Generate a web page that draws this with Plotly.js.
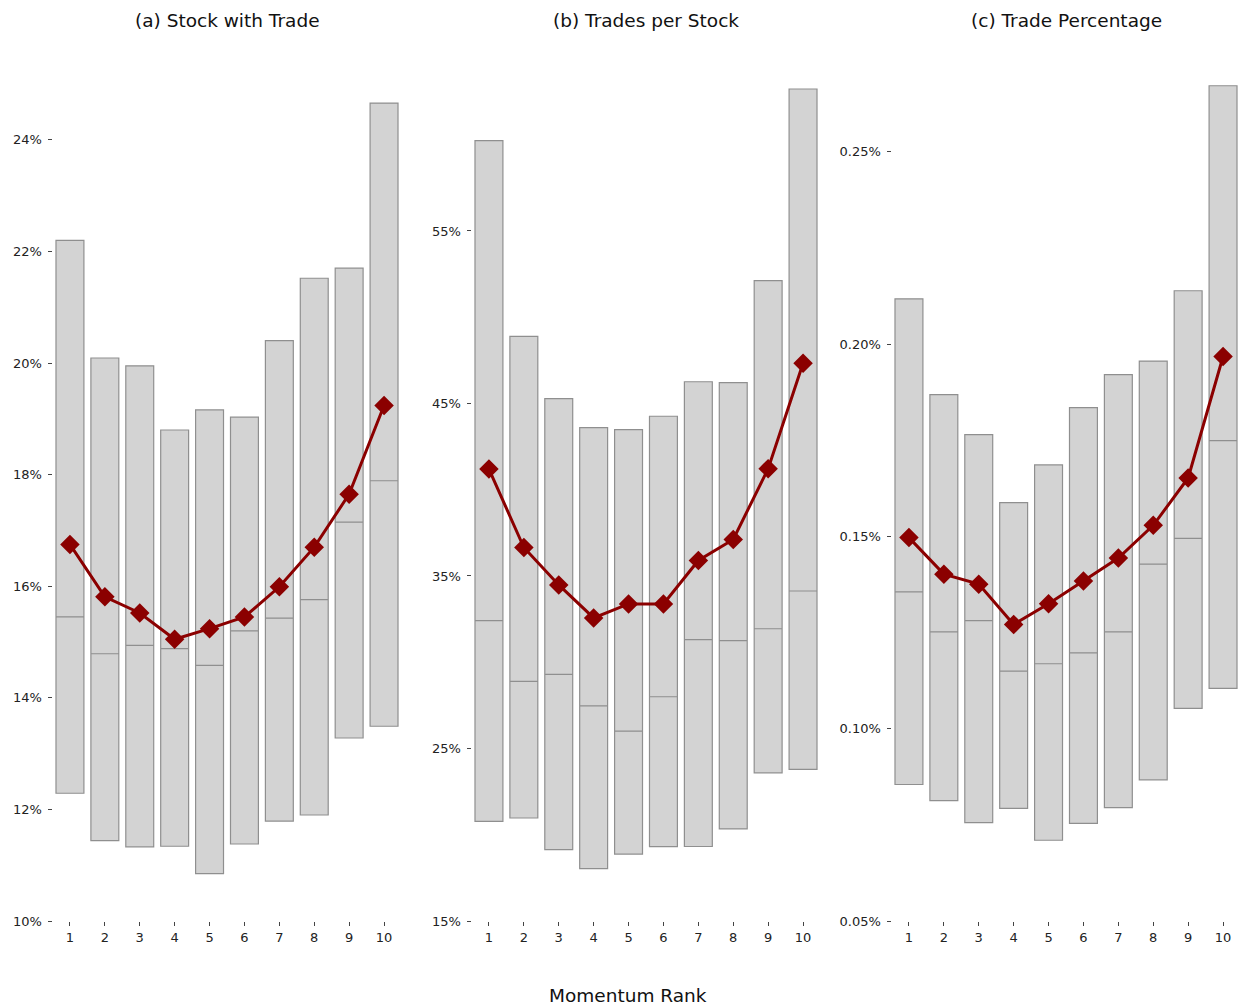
<!DOCTYPE html>
<html>
<head>
<meta charset="utf-8">
<script src="https://cdn.plot.ly/plotly-3.0.1.min.js"></script>
<style>html,body{margin:0;padding:0;background:#fff;}#chart{width:1241px;height:1006px;}</style>
</head>
<body>
<div id="chart"></div>
<script>
const ranks = [1, 2, 3, 4, 5, 6, 7, 8, 9, 10];
const rankLabels = ['1','2','3','4','5','6','7','8','9','10'];

// (a) Stock with Trade (%)
const aHigh   = [22.20, 20.09, 19.95, 18.80, 19.16, 19.03, 20.40, 21.52, 21.70, 24.66];
const aLow    = [12.29, 11.44, 11.33, 11.34, 10.85, 11.38, 11.79, 11.90, 13.28, 13.49];
const aMedian = [15.45, 14.79, 14.94, 14.88, 14.58, 15.20, 15.43, 15.76, 17.15, 17.89];
const aMean   = [16.75, 15.81, 15.52, 15.05, 15.24, 15.45, 15.99, 16.70, 17.65, 19.24];
const aTicks  = [10, 12, 14, 16, 18, 20, 22, 24];
const aTickLabels = ['10%', '12%', '14%', '16%', '18%', '20%', '22%', '24%'];

// (b) Trades per Stock (%)
const bHigh   = [60.24, 48.89, 45.28, 43.60, 43.48, 44.26, 46.26, 46.21, 52.12, 63.23];
const bLow    = [20.77, 20.97, 19.14, 18.04, 18.88, 19.31, 19.32, 20.34, 23.59, 23.79];
const bMedian = [32.41, 28.89, 29.30, 27.47, 26.01, 28.00, 31.31, 31.25, 31.94, 34.13];
const bMean   = [41.20, 36.65, 34.48, 32.57, 33.38, 33.38, 35.90, 37.12, 41.22, 47.33];
const bTicks  = [15, 25, 35, 45, 55];
const bTickLabels = ['15%', '25%', '35%', '45%', '55%'];

// (c) Trade Percentage (%)
const cHigh   = [0.2118, 0.1869, 0.1765, 0.1588, 0.1686, 0.1835, 0.1921, 0.1956, 0.2139, 0.2672];
const cLow    = [0.0855, 0.0813, 0.0756, 0.0793, 0.0710, 0.0754, 0.0795, 0.0867, 0.1053, 0.1105];
const cMedian = [0.1356, 0.1252, 0.1281, 0.1150, 0.1169, 0.1197, 0.1252, 0.1428, 0.1495, 0.1749];
const cMean   = [0.1497, 0.1402, 0.1376, 0.1271, 0.1325, 0.1384, 0.1444, 0.1529, 0.1652, 0.1968];
const cTicks  = [0.05, 0.10, 0.15, 0.20, 0.25];
const cTickLabels = ['0.05%', '0.10%', '0.15%', '0.20%', '0.25%'];

const panelTitles = ['(a) Stock with Trade', '(b) Trades per Stock', '(c) Trade Percentage'];
const xTitle = 'Momentum Rank';

const W = 1241, H = 1006;
const FONT = 'DejaVu Sans, sans-serif';
const panels = [
  {high: aHigh, low: aLow, med: aMedian, mean: aMean, ticks: aTicks, labels: aTickLabels, left: 52.5, range: [10, 25.70]},
  {high: bHigh, low: bLow, med: bMedian, mean: bMean, ticks: bTicks, labels: bTickLabels, left: 471.5, range: [15, 65.78]},
  {high: cHigh, low: cLow, med: cMedian, mean: cMean, ticks: cTicks, labels: cTickLabels, left: 891.5, range: [0.05, 0.2778]}
];
const axW = 349;
const yDom = [(H - 921) / H, (H - 45) / H];

const traces = [];
const layout = {
  width: W, height: H,
  margin: {l: 0, r: 0, t: 0, b: 0},
  paper_bgcolor: '#ffffff', plot_bgcolor: '#ffffff',
  showlegend: false,
  font: {family: FONT, size: 13, color: '#222'},
  annotations: []
};

panels.forEach((p, i) => {
  const n = i === 0 ? '' : String(i + 1);
  const xa = 'x' + n, ya = 'y' + n;
  traces.push({
    type: 'box', x: ranks, xaxis: xa, yaxis: ya,
    q1: p.low, median: p.med, q3: p.high,
    lowerfence: p.low, upperfence: p.high,
    boxpoints: false, width: 0.8, whiskerwidth: 0,
    fillcolor: '#d3d3d3',
    line: {color: '#8f8f8f', width: 1.2},
    hoverinfo: 'skip'
  });
  traces.push({
    type: 'scatter', mode: 'lines+markers', x: ranks, y: p.mean,
    xaxis: xa, yaxis: ya,
    line: {color: '#8b0000', width: 3},
    marker: {symbol: 'diamond', size: 15, color: '#8b0000'},
    hoverinfo: 'skip'
  });
  layout['xaxis' + n] = {
    domain: [p.left / W, (p.left + axW) / W],
    anchor: ya, range: [0.5, 10.5],
    tickmode: 'array', tickvals: ranks, ticktext: rankLabels,
    ticks: 'outside', ticklen: 4, tickwidth: 1, tickcolor: '#444',
    showgrid: false, zeroline: false, showline: false,
    tickfont: {family: FONT, size: 13, color: '#222'}
  };
  layout['yaxis' + n] = {
    domain: yDom, anchor: xa, range: p.range,
    tickmode: 'array', tickvals: p.ticks, ticktext: p.labels,
    ticks: 'outside', ticklen: 4, tickwidth: 1, tickcolor: '#444',
    ticklabelstandoff: 3,
    showgrid: false, zeroline: false, showline: false,
    tickfont: {family: FONT, size: 13, color: '#222'}
  };
  layout.annotations.push({
    text: panelTitles[i], xref: 'paper', yref: 'paper',
    x: (p.left + axW / 2) / W, y: (H - 20) / H,
    xanchor: 'center', yanchor: 'middle', showarrow: false,
    font: {family: FONT, size: 18.5, color: '#111'}
  });
});

layout.annotations.push({
  text: xTitle, xref: 'paper', yref: 'paper',
  x: 628 / W, y: (H - 995) / H,
  xanchor: 'center', yanchor: 'middle', showarrow: false,
  font: {family: FONT, size: 18.5, color: '#111'}
});

Plotly.newPlot('chart', traces, layout, {displayModeBar: false, staticPlot: true});
</script>
</body>
</html>
